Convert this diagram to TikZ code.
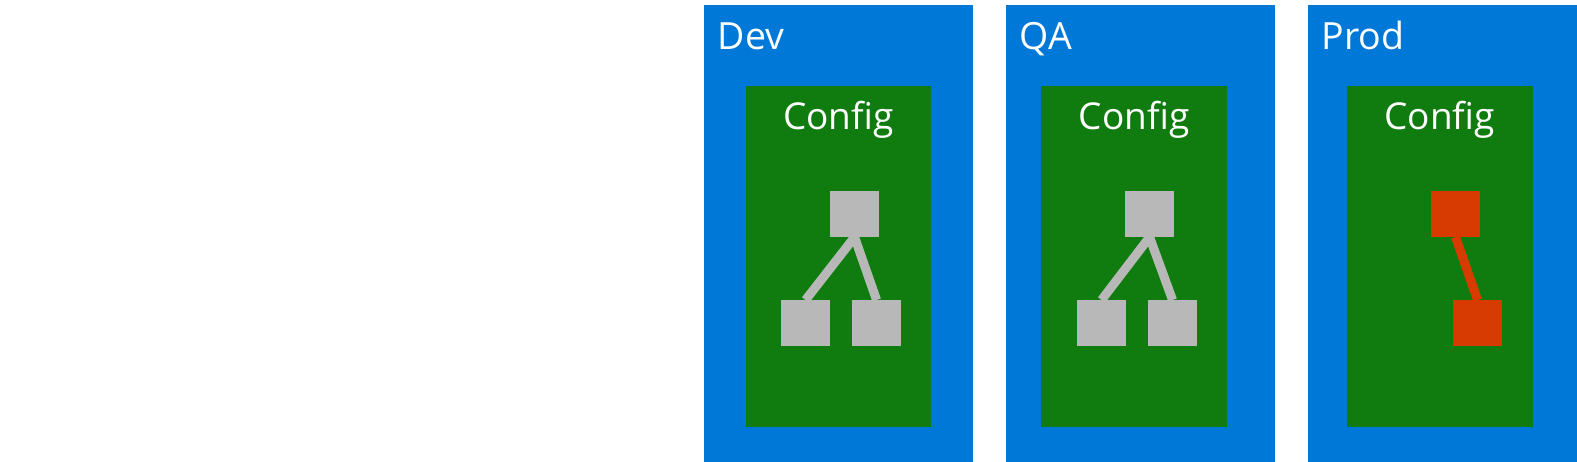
\documentclass[tikz,border=0pt]{standalone}
\usepackage{fontspec}
\setmainfont{Open Sans}
\definecolor{envblue}{HTML}{0078D7}
\definecolor{cfggreen}{HTML}{107C10}
\definecolor{itemgray}{HTML}{B8B8B8}
\definecolor{itemred}{HTML}{D83B01}
\begin{document}
\begin{tikzpicture}[x=1pt,y=-1pt,
  envbox/.style={fill=envblue,draw=none,inner sep=0pt,anchor=north west,minimum width=269pt,minimum height=457pt},
  cfgbox/.style={fill=cfggreen,draw=none,inner sep=0pt,anchor=north west,minimum width=185.5pt,minimum height=340.7pt},
  sq/.style={draw=none,inner sep=0pt,anchor=north west,minimum width=48.7pt,minimum height=45.7pt},
  graysq/.style={sq,fill=itemgray},
  redsq/.style={sq,fill=itemred},
  envlabel/.style={anchor=base west,inner sep=0pt,text=white,font=\fontsize{37.5}{40}\selectfont},
  cfglabel/.style={anchor=base,inner sep=0pt,text=white,font=\fontsize{37}{40}\selectfont},
  grayline/.style={draw=itemgray,line width=9pt},
  redline/.style={draw=itemred,line width=9pt}]
\useasboundingbox (0,0) rectangle (1577,462);
% Dev
\node[envbox] (dev) at (704,5) {};
\node[envlabel] (devl) at (717.5,49.3) {Dev};
\node[cfgbox] (devc) at (745.7,86) {};
\node[cfglabel] (devcl) at (838.4,130) {Config};
\node[graysq] (devt) at (830,191) {};
\node[graysq] (devl1) at (781,300) {};
\node[graysq] (devr1) at (852,300) {};
\draw[grayline] (devt.south) -- (devl1.north);
\draw[grayline] (devt.south) -- (devr1.north);
% QA
\node[envbox] (qa) at (1006,5) {};
\node[envlabel] (qal) at (1019.5,49.3) {QA};
\node[cfgbox] (qac) at (1041,86) {};
\node[cfglabel] (qacl) at (1134,130) {Config};
\node[graysq] (qat) at (1125,191) {};
\node[graysq] (qal1) at (1077,300) {};
\node[graysq] (qar1) at (1148,300) {};
\draw[grayline] (qat.south) -- (qal1.north);
\draw[grayline] (qat.south) -- (qar1.north);
% Prod
\node[envbox] (prod) at (1308,5) {};
\node[envlabel] (prodl) at (1321.5,49.3) {Prod};
\node[cfgbox] (prodc) at (1347,86) {};
\node[cfglabel] (prodcl) at (1439.8,130) {Config};
\node[redsq] (prodt) at (1431,191) {};
\node[redsq] (prodb) at (1453,300) {};
\draw[redline] (prodt.south) -- (prodb.north);
\end{tikzpicture}
\end{document}
